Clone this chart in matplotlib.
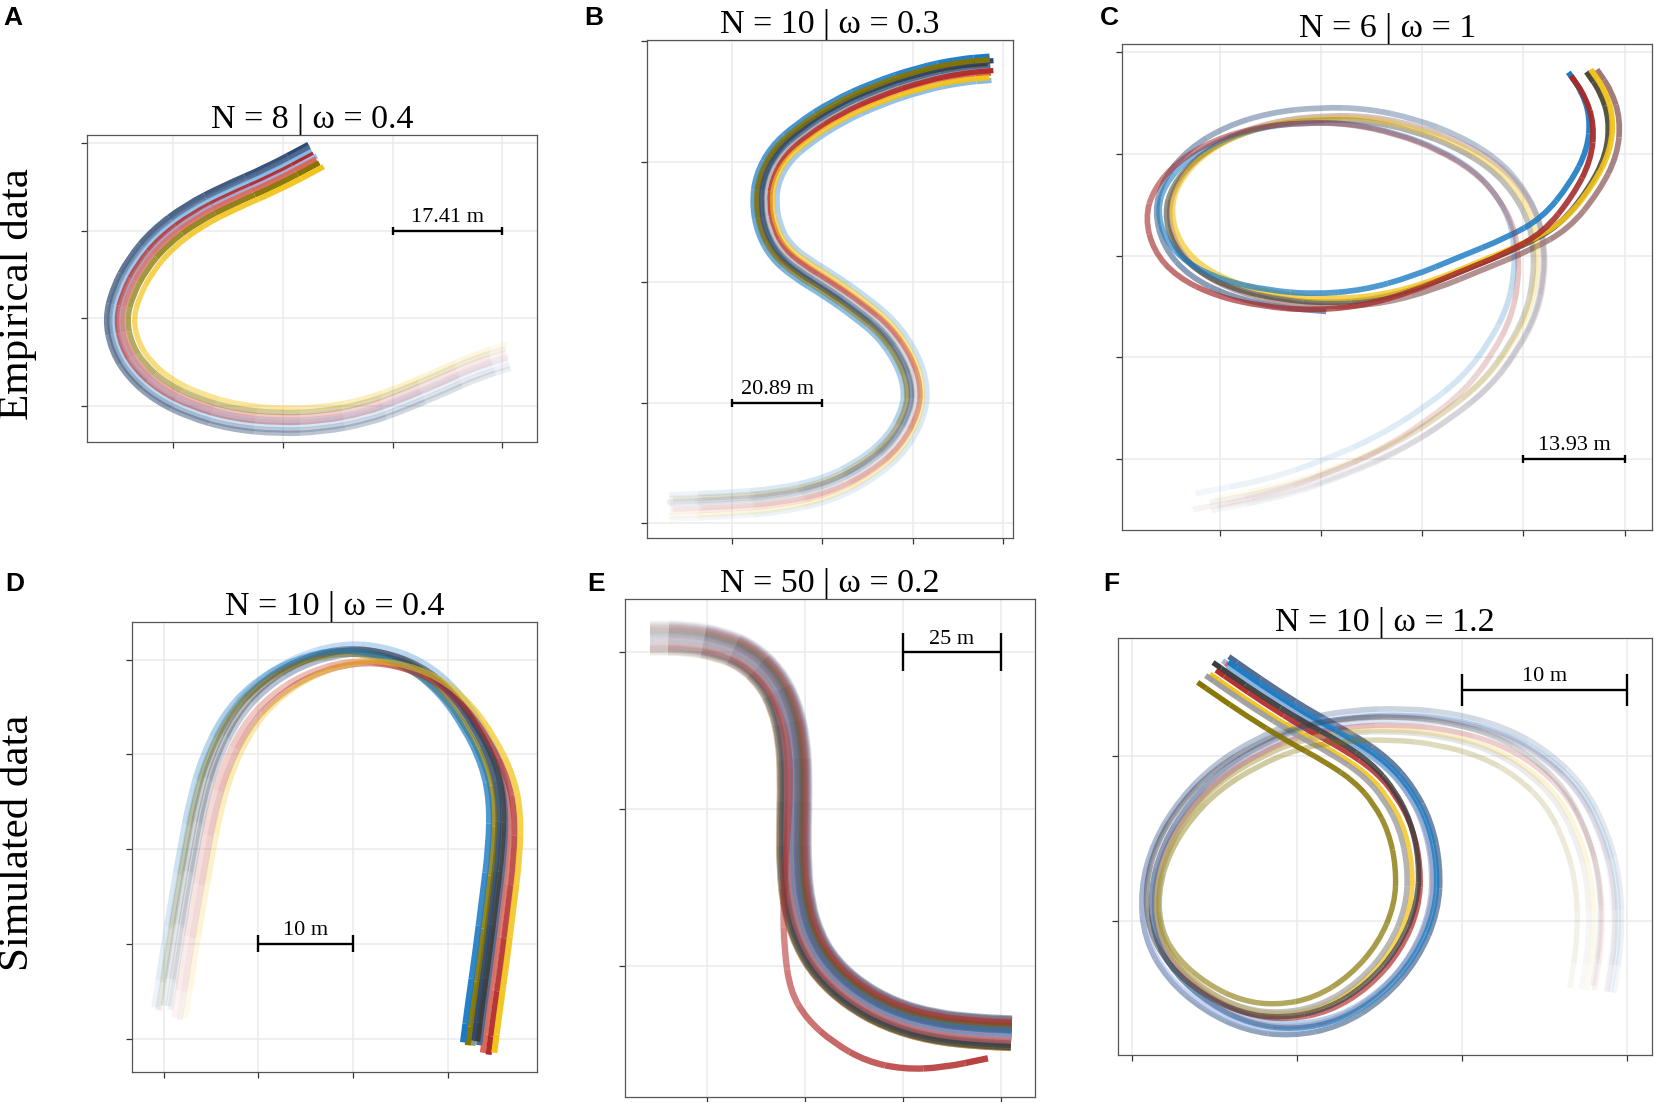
import numpy as np
import matplotlib
matplotlib.use("Agg")
import matplotlib.pyplot as plt
from matplotlib.path import Path
from matplotlib.patches import PathPatch
from matplotlib.collections import PatchCollection
from matplotlib.colors import to_rgba

plt.rcParams['font.family'] = ['Liberation Serif', 'DejaVu Serif']

# ---------------- colours ----------------
BLUE = "#1A7BC4"; GOLD = "#F2C318"; RED = "#B22C2C"; OLIVE = "#857400"
DARK = "#3C3C3C"; STEEL = "#4C6A92"; LTBLUE = "#86B8E6"; GRAY = "#9E9E9E"
SALMON = "#D9685A"; LAVENDER = "#A4B4E4"; ROSY = "#A07878"; DKOLIVE = "#4F4A38"
NAVY = "#2E4A70"; SAGE = "#8A9A7A"; DKRED = "#A52A2A"

# ---------------- panel A (empirical, N=8, w=0.4) ----------------
A_title = "N = 8 | \u03c9 = 0.4"
A_x = [3.04, 2.75, 2.43, 2.07, 1.74, 1.35, 0.96, 0.54, 0.18, -0.11, -0.32, -0.45, -0.50, -0.44, -0.31, -0.11, 0.18, 0.51, 0.90, 1.29]
A_y = [0.57, 0.46, 0.28, 0.09, -0.06, -0.15, -0.17, -0.12, 0.01, 0.19, 0.42, 0.68, 0.99, 1.29, 1.60, 1.90, 2.17, 2.38, 2.59, 2.85]
A_col = [NAVY, STEEL, LTBLUE, RED, LAVENDER, SALMON, OLIVE, GOLD]
A_lat = [0.12, 0.09, 0.05, 0.02, 0.00, -0.03, -0.07, -0.11]
A_dx = [0, 0, 0, 0, 0.02, 0, 0.01, 0.03]
A_dy = [0, 0, 0, 0, 0, 0, 0, 0]
A_bar = "17.41 m"

# ---------------- panel B (empirical, N=10, w=0.3) ----------------
B_title = "N = 10 | \u03c9 = 0.3"
B_x = [-0.69, -0.06, 0.49, 1.05, 1.49, 1.82, 2.01, 2.03, 1.93, 1.71, 1.42, 1.08, 0.75, 0.53, 0.40, 0.35, 0.38, 0.53, 0.79, 1.16, 1.60, 2.08, 2.52, 2.86]
B_y = [0.14, 0.16, 0.19, 0.28, 0.45, 0.66, 0.93, 1.14, 1.37, 1.61, 1.79, 1.97, 2.12, 2.26, 2.44, 2.65, 2.86, 3.07, 3.24, 3.42, 3.57, 3.69, 3.76, 3.78]
B_col = [GRAY, SALMON, LTBLUE, RED, STEEL, DARK, BLUE, NAVY, GOLD, OLIVE]
B_lat = [0.00, -0.06, -0.14, -0.03, 0.03, 0.05, 0.13, 0.08, -0.11, 0.09]
B_dx = [0, 0, 0, 0.03, 0, -0.03, 0, 0.04, -0.02, 0]
B_dy = [0, 0, 0, 0, 0, 0, 0, 0, 0, 0]
B_bar = "20.89 m"

# ---------------- panel C (empirical, N=6, w=1) ----------------
C_title = "N = 6 | \u03c9 = 1"
C_x = [-0.15, 0.54, 1.16, 1.70, 2.16, 2.55, 2.82, 3.00, 3.07, 3.07, 3.02, 2.86, 2.63, 2.28, 1.86, 1.39, 0.93, 0.46, 0.04, -0.31, -0.54, -0.62, -0.54, -0.31, 0.08, 0.54, 1.00, 1.51, 2.01, 2.47, 2.94, 3.32, 3.61, 3.79, 3.82, 3.73, 3.59]
C_y = [-0.45, -0.32, -0.11, 0.13, 0.42, 0.73, 1.09, 1.44, 1.79, 2.07, 2.35, 2.64, 2.88, 3.09, 3.25, 3.35, 3.36, 3.31, 3.18, 2.97, 2.70, 2.42, 2.10, 1.84, 1.65, 1.55, 1.51, 1.55, 1.69, 1.88, 2.07, 2.28, 2.64, 2.99, 3.34, 3.62, 3.82]
C_col = [STEEL, ROSY, DKOLIVE, GOLD, BLUE, DKRED]
C_lat = [-0.08, -0.02, 0.02, 0.03, 0.08, 0.00]
C_dx = [0.05, 0.12, 0.05, 0.10, -0.08, -0.12]
C_dy = [0.02, 0.00, 0.00, 0.03, 0.03, -0.05]
C_end = [27, 37, 37, 37, 37, 37]
C_bar = "13.93 m"

# ---------------- panel D (simulated, N=10, w=0.4) ----------------
D_title = "N = 10 | \u03c9 = 0.4"
D_x = [0.05, 0.14, 0.23, 0.33, 0.42, 0.55, 0.77, 1.06, 1.44, 1.89, 2.30, 2.72, 3.06, 3.32, 3.51, 3.59, 3.58, 3.51, 3.44, 3.36, 3.31]
D_y = [0.30, 0.88, 1.44, 2.00, 2.48, 2.93, 3.38, 3.70, 3.94, 4.07, 4.05, 3.90, 3.62, 3.25, 2.86, 2.48, 2.00, 1.44, 0.88, 0.32, -0.07]
D_col = [LTBLUE, SAGE, SALMON, STEEL, DARK, NAVY, OLIVE, BLUE, RED, GOLD]
D_lat = [0.07, 0.03, 0.00, 0.00, 0.00, 0.00, 0.00, 0.00, 0.00, 0.00]
D_dx = [-0.02, -0.08, 0.06, 0.02, 0.00, -0.05, -0.10, -0.15, 0.12, 0.18]
D_dy = [0.03, 0.00, -0.08, 0.00, 0.04, 0.05, 0.00, 0.03, -0.10, -0.08]
D_bar = "10 m"

# ---------------- panel E (simulated, N=50, w=0.2) ----------------
E_title = "N = 50 | \u03c9 = 0.2"
E_x = [-0.58, -0.20, 0.14, 0.41, 0.65, 0.80, 0.88, 0.90, 0.89, 0.89, 0.93, 1.04, 1.22, 1.50, 1.87, 2.31, 2.76, 3.11]
E_y = [2.09, 2.09, 2.05, 1.98, 1.84, 1.66, 1.44, 1.19, 0.90, 0.63, 0.38, 0.16, -0.02, -0.18, -0.31, -0.39, -0.42, -0.43]
E_lat = [-0.15, 0.12, -0.04, 0.08, -0.10, 0.02, 0.14, -0.07, 0.05, -0.12,
         0.10, -0.01, 0.06, -0.14, 0.03, 0.11, -0.08, 0.00, 0.13, -0.05,
         0.07, -0.11, 0.04, -0.02, 0.09, -0.13, 0.01, 0.12, -0.06, 0.05,
         -0.09, 0.15, -0.03, 0.08, -0.15, 0.02, 0.10, -0.07, 0.06, -0.12,
         0.04, -0.01, 0.13, -0.10, 0.07, -0.04, 0.11, -0.08, 0.03, -0.14]
E_palette = [RED, STEEL, ROSY, NAVY, OLIVE, LAVENDER, DKRED, SALMON, BLUE, DARK]
E_out_x = [-0.58, -0.20, 0.14, 0.41, 0.63, 0.77, 0.84, 0.85, 0.83, 0.80, 0.78, 0.79, 0.85, 1.02, 1.29, 1.63, 2.01, 2.41, 2.87]
E_out_y = [2.02, 2.02, 1.98, 1.90, 1.76, 1.58, 1.38, 1.15, 0.90, 0.63, 0.38, 0.11, -0.16, -0.34, -0.49, -0.61, -0.66, -0.65, -0.59]
E_bar = "25 m"

# ---------------- panel F (simulated, N=10, w=1.2) ----------------
F_title = "N = 10 | \u03c9 = 1.2"
F_x = [2.80, 2.85, 2.84, 2.77, 2.64, 2.44, 2.21, 1.92, 1.63, 1.32, 1.04, 0.78, 0.54, 0.35, 0.20, 0.13, 0.15, 0.27, 0.47, 0.70, 0.94, 1.20, 1.44, 1.63, 1.74, 1.75, 1.70, 1.60, 1.47, 1.28, 1.04, 0.80, 0.61, 0.51]
F_y = [-0.42, -0.10, 0.23, 0.50, 0.76, 0.95, 1.08, 1.16, 1.19, 1.18, 1.13, 1.02, 0.87, 0.68, 0.44, 0.18, -0.08, -0.29, -0.46, -0.57, -0.60, -0.55, -0.40, -0.18, 0.08, 0.33, 0.57, 0.76, 0.91, 1.04, 1.17, 1.32, 1.45, 1.52]
F_col = [STEEL, LAVENDER, SALMON, LTBLUE, RED, GOLD, GRAY, BLUE, DARK, OLIVE]
F_lat = [-0.10, -0.07, -0.05, -0.03, 0.00, 0.03, 0.04, -0.06, -0.02, 0.09]
F_dx = [0.02, 0.00, 0.03, 0.05, 0.00, -0.02, -0.04, 0.04, -0.03, -0.06]
F_dy = [0, 0, 0, 0, 0, 0, 0, 0, 0.03, 0]
F_bar = "10 m"


# ---------------- helpers ----------------
def offset_path(ax, x, y, lat):
    T = ax.transData
    P = T.transform(np.column_stack([x, y]))
    d = np.gradient(P, axis=0)
    nrm = np.column_stack([-d[:, 1], d[:, 0]])
    nrm /= np.hypot(nrm[:, 0], nrm[:, 1])[:, None]
    unit = T.transform([[1, 0]])[0, 0] - T.transform([[0, 0]])[0, 0]
    P = P + lat * unit * nrm
    return T.inverted().transform(P)


def draw_track(ax, x, y, lat, color, lw, a0, a1, end=None):
    """Track drawn as a chain of quadratic Bezier pieces (library-rendered),
    each piece with its own opacity so the track fades towards its start."""
    pts = offset_path(ax, np.asarray(x, float), np.asarray(y, float), lat)
    n = len(pts) if end is None else end
    pts = pts[:n]
    mids = (pts[:-1] + pts[1:]) / 2
    patches, cols = [], []
    nfull = len(x)
    for i in range(n):
        if i == 0:
            verts, codes = [pts[0], mids[0]], [Path.MOVETO, Path.LINETO]
        elif i == n - 1:
            verts, codes = [mids[-1], pts[-1]], [Path.MOVETO, Path.LINETO]
        else:
            verts = [mids[i - 1], pts[i], mids[i]]
            codes = [Path.MOVETO, Path.CURVE3, Path.CURVE3]
        patches.append(PathPatch(Path(verts, codes)))
        a = min(1.0, max(0.0, a0 + (a1 - a0) * i / (nfull - 1)))
        cols.append(to_rgba(color, a))
    pc = PatchCollection(patches, facecolors='none', edgecolors=cols,
                         linewidths=lw, zorder=3)
    pc.set_capstyle('butt')
    ax.add_collection(pc)


def style(ax, xlim, ylim, xt, yt, title):
    ax.set_xlim(xlim); ax.set_ylim(ylim)
    ax.set_xticks(xt); ax.set_yticks(yt)
    ax.set_xticklabels([]); ax.set_yticklabels([])
    ax.grid(True, color='#EBEBEB', lw=1.1)
    ax.set_axisbelow(True)
    for s in ax.spines.values():
        s.set_color('#555555'); s.set_linewidth(0.9)
    ax.tick_params(length=4, width=0.9, color='#333333', direction='out')
    ax.set_title(title, fontsize=24.5, pad=5)


def scalebar(ax, x0, x1, y, h, label):
    kw = dict(color='black', lw=1.7, solid_capstyle='butt', zorder=6)
    ax.plot([x0, x1], [y, y], **kw)
    ax.plot([x0, x0], [y - h, y + h], **kw)
    ax.plot([x1, x1], [y - h, y + h], **kw)
    ax.annotate(label, xy=((x0 + x1) / 2, y), xytext=(0, 2.5),
                textcoords='offset points', ha='center', va='bottom',
                fontsize=16, zorder=6)


fig = plt.figure(figsize=(16.54, 11.02), dpi=100)

# A
ax = fig.add_axes([0.0523, 0.599, 0.2723, 0.2785])
style(ax, (-0.787, 3.314), (-0.41, 3.09), [0, 1, 2, 3], [0, 1, 2, 3], A_title)
for lat, dx, dy, c in zip(A_lat, A_dx, A_dy, A_col):
    draw_track(ax, np.add(A_x, dx), np.add(A_y, dy), lat, c, 3.9, 0.08, 1.0)
scalebar(ax, 2, 3, 2, 0.045, A_bar)

# B
ax = fig.add_axes([0.391, 0.512, 0.2213, 0.4516])
style(ax, (-0.945, 3.107), (-0.119, 4.01), [0, 1, 2, 3], [0, 1, 2, 3, 4], B_title)
for lat, dx, dy, c in zip(B_lat, B_dx, B_dy, B_col):
    draw_track(ax, np.add(B_x, dx), np.add(B_y, dy), lat, c, 3.8, 0.08, 1.0)
scalebar(ax, 0, 1, 1, 0.035, B_bar)

# C
ax = fig.add_axes([0.6786, 0.5187, 0.3201, 0.4411])
style(ax, (-0.966, 4.27), (-0.705, 4.08), [0, 1, 2, 3, 4], [0, 1, 2, 3, 4], C_title)
for lat, dx, dy, c, e in zip(C_lat, C_dx, C_dy, C_col, C_end):
    draw_track(ax, np.add(C_x, dx), np.add(C_y, dy), lat, c, 4.1, 0.06, 1.0, end=e)
scalebar(ax, 3, 4, 0, 0.04, C_bar)

# D
ax = fig.add_axes([0.0797, 0.0268, 0.2449, 0.4086])
style(ax, (-0.336, 3.94), (-0.358, 4.395), [0, 1, 2, 3], [0, 1, 2, 3, 4], D_title)
for lat, dx, dy, c in zip(D_lat, D_dx, D_dy, D_col):
    draw_track(ax, np.add(D_x, dx), np.add(D_y, dy), lat, c, 4.4, 0.08, 1.0)
scalebar(ax, 1, 2, 1, 0.09, D_bar)

# E
ax = fig.add_axes([0.3776, 0.0048, 0.2481, 0.4517])
style(ax, (-0.84, 3.35), (-0.835, 2.339), [0, 1, 2, 3], [0, 1, 2], E_title)
for i, lat in enumerate(E_lat):
    draw_track(ax, E_x, E_y, lat, E_palette[i % len(E_palette)], 4.6, 0.03, 0.55)
draw_track(ax, E_out_x, E_out_y, 0.0, RED, 4.6, 0.05, 0.9)
scalebar(ax, 2, 3, 2, 0.12, E_bar)

# F
ax = fig.add_axes([0.676, 0.0431, 0.3227, 0.378])
style(ax, (-0.083, 3.148), (-0.809, 1.715), [0, 1, 2, 3], [0, 1], F_title)
for lat, dx, dy, c in zip(F_lat, F_dx, F_dy, F_col):
    draw_track(ax, np.add(F_x, dx), np.add(F_y, dy), lat, c, 3.9, 0.06, 1.0)
scalebar(ax, 2, 3, 1.40, 0.095, F_bar)

# row labels
fig.text(0.0105, 0.733, "Empirical data", rotation=90, ha='center', va='center', fontsize=31)
fig.text(0.0105, 0.235, "Simulated data", rotation=90, ha='center', va='center', fontsize=31)

# panel letters
lkw = dict(fontsize=19, fontweight='bold', family=['Liberation Sans', 'DejaVu Sans'], ha='left', va='center')
fig.text(0.002, 0.984, "A", **lkw)
fig.text(0.353, 0.984, "B", **lkw)
fig.text(0.665, 0.984, "C", **lkw)
fig.text(0.003, 0.470, "D", **lkw)
fig.text(0.355, 0.470, "E", **lkw)
fig.text(0.667, 0.470, "F", **lkw)

fig.savefig("out.png", dpi=100)
